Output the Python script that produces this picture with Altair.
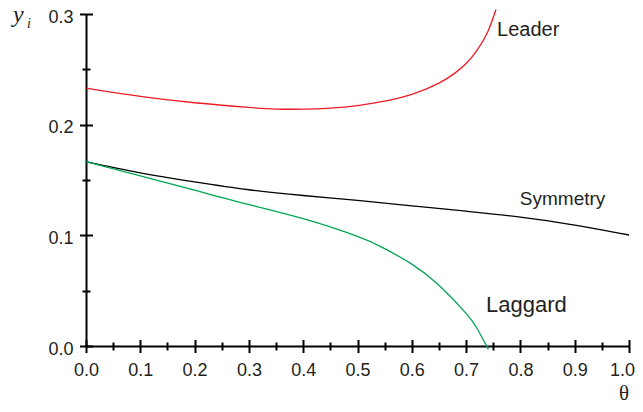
import altair as alt
import pandas as pd

# ---- data ----
sym_theta = [0.0, 0.1, 0.2, 0.3, 0.4, 0.5, 0.6, 0.7, 0.8, 0.9, 1.0]
sym_y = [0.1667, 0.1565, 0.1483, 0.1412, 0.1360, 0.1315, 0.1267, 0.1218, 0.1165, 0.1092, 0.1003]

lead_theta = [0.0, 0.1, 0.2, 0.3, 0.35, 0.4, 0.45, 0.5, 0.55, 0.6, 0.65, 0.68, 0.7, 0.72, 0.74, 0.755]
lead_y = [0.2330, 0.2255, 0.2198, 0.2156, 0.2141, 0.2140, 0.2150, 0.2173, 0.2212, 0.2273, 0.2375,
          0.2468, 0.2552, 0.2672, 0.2840, 0.3040]

lag_theta = [0.0, 0.1, 0.2, 0.3, 0.4, 0.5, 0.55, 0.6, 0.65, 0.7, 0.72, 0.741]
lag_y = [0.1667, 0.1538, 0.1408, 0.1278, 0.1150, 0.0990, 0.0880, 0.0740, 0.0549, 0.0295,
         0.0160, -0.003]

series_names = ["Symmetry", "Leader", "Laggard"]
series_colors = ["#000000", "#ed1c24", "#00a651"]

label_text = ["Leader", "Symmetry", "Laggard"]
label_x = [0.757, 0.799, 0.7366]
label_y = [0.2804, 0.1274, 0.031]
label_size = [20, 19, 22]

x_major = [0.0, 0.1, 0.2, 0.3, 0.4, 0.5, 0.6, 0.7, 0.8, 0.9, 1.0]
x_minor = [0.05, 0.15, 0.25, 0.35, 0.45, 0.55, 0.65, 0.75, 0.85, 0.95]
y_major = [0.0, 0.1, 0.2, 0.3]
y_minor = [0.05, 0.15, 0.25]

# ---- build table ----
rows = []
for name, xs_, ys_ in [("Symmetry", sym_theta, sym_y), ("Leader", lead_theta, lead_y), ("Laggard", lag_theta, lag_y)]:
    for a, b in zip(xs_, ys_):
        rows.append({"series": name, "theta": a, "y": b})
df = pd.DataFrame(rows)

labels_df = pd.DataFrame({"label": label_text, "theta": label_x, "y": label_y, "fs": label_size})
ysym_df = pd.DataFrame({"label": ["y"], "theta": [-0.1344], "y": [0.2927]})
isub_df = pd.DataFrame({"label": ["i"], "theta": [-0.1087], "y": [0.2873]})
th_df = pd.DataFrame({"label": ["θ"], "theta": [0.991], "y": [-0.0434]})

xs = alt.Scale(domain=[0, 1], nice=False, zero=False)
ys = alt.Scale(domain=[0, 0.3], nice=False, zero=False)

FONT = "Liberation Sans"

main = alt.Chart(df).mark_line(strokeWidth=1.3, interpolate="natural").encode(
    x=alt.X("theta:Q", scale=xs, title=None,
            axis=alt.Axis(values=x_major, format=".1f", ticks=False, domainWidth=2, domainColor="black",
                          labelFontSize=18, labelFont=FONT, labelColor="#231f20", labelPadding=15,
                          labelOffset={"condition": {"test": "datum.value >= 0.99", "value": -7}, "value": 0},
                          labelFlush=False, labelOverlap=False, grid=False, orient="bottom")),
    y=alt.Y("y:Q", scale=ys, title=None,
            axis=alt.Axis(values=y_major, format=".1f", ticks=False, domainWidth=2, domainColor="black",
                          labelFontSize=18, labelFont=FONT, labelColor="#231f20", labelPadding=13,
                          labelOffset=3, labelFlush=False, labelOverlap=False, grid=False,
                          orient="left")),
    color=alt.Color("series:N", scale=alt.Scale(domain=series_names, range=series_colors), legend=None),
    detail="series:N",
)

def tick_layer(xvals, yvals, size):
    return alt.Chart(df).mark_line(opacity=0).encode(
        x=alt.X("theta:Q", scale=xs, title=None,
                axis=alt.Axis(values=xvals, labels=False, domain=False, ticks=True, tickSize=size * 2,
                              tickWidth=2, tickColor="black", offset=-size, grid=False, orient="bottom")),
        y=alt.Y("y:Q", scale=ys, title=None,
                axis=alt.Axis(values=yvals, labels=False, domain=False, ticks=True, tickSize=size * 2,
                              tickWidth=2, tickColor="black", offset=-size, grid=False, orient="left")),
        detail="series:N",
    )

major = tick_layer(x_major, y_major, 6.5)
minor = tick_layer(x_minor, y_minor, 4)

texts = alt.Chart(labels_df).mark_text(align="left", baseline="alphabetic", font=FONT, color="#231f20").encode(
    x=alt.X("theta:Q", scale=xs, axis=None),
    y=alt.Y("y:Q", scale=ys, axis=None),
    text="label:N",
    size=alt.Size("fs:Q", scale=None),
)

ylab = alt.Chart(ysym_df).mark_text(align="left", baseline="alphabetic", font="Liberation Serif",
                                     fontStyle="italic", fontSize=24, color="#231f20").encode(
    x=alt.X("theta:Q", scale=xs, axis=None),
    y=alt.Y("y:Q", scale=ys, axis=None),
    text="label:N",
)
ilab = alt.Chart(isub_df).mark_text(align="left", baseline="alphabetic", font="Liberation Serif",
                                     fontStyle="italic", fontSize=14, color="#231f20").encode(
    x=alt.X("theta:Q", scale=xs, axis=None),
    y=alt.Y("y:Q", scale=ys, axis=None),
    text="label:N",
)
thlab = alt.Chart(th_df).mark_text(align="center", baseline="middle", font="Liberation Serif",
                                    fontSize=21, color="#231f20").encode(
    x=alt.X("theta:Q", scale=xs, axis=None),
    y=alt.Y("y:Q", scale=ys, axis=None),
    text="label:N",
)

chart = alt.layer(main, major, minor, texts, ylab, ilab, thlab).resolve_scale(
    x="shared", y="shared"
).resolve_axis(
    x="independent", y="independent"
).properties(
    width=543, height=332,
    autosize=alt.AutoSizeParams(type="none"),
    padding={"left": 78, "top": 6, "right": 6, "bottom": 58},
).configure_view(stroke=None)

chart.save("out.html", embed_options={"renderer": "svg", "actions": False})
